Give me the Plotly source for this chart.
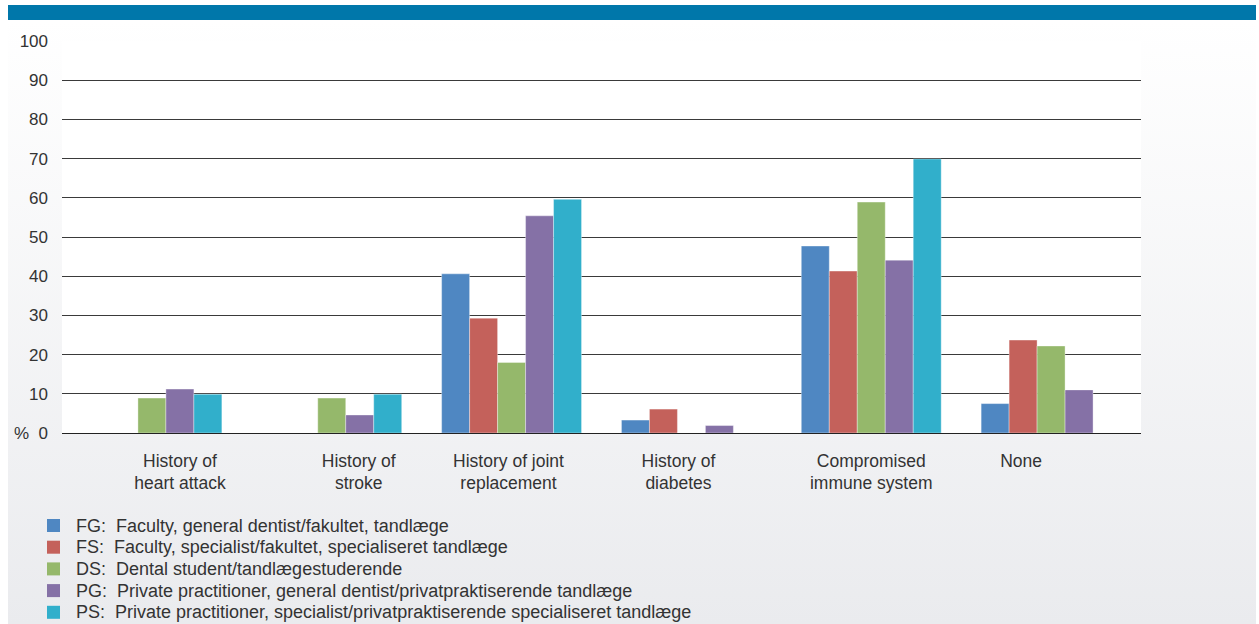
import base64
import plotly.graph_objects as go

categories = ["History of<br>heart attack", "History of<br>stroke", "History of joint<br>replacement",
              "History of<br>diabetes", "Compromised<br>immune system", "None"]
series_names = [
    "FG:&nbsp; Faculty, general dentist/fakultet, tandlæge",
    "FS:&nbsp; Faculty, specialist/fakultet, specialiseret tandlæge",
    "DS:&nbsp; Dental student/tandlægestuderende",
    "PG:&nbsp; Private practitioner, general dentist/privatpraktiserende tandlæge",
    "PS:&nbsp; Private practitioner, specialist/privatpraktiserende specialiseret tandlæge",
]
FG = [0, 0, 40.6, 3.3, 47.7, 7.5]
FS = [0, 0, 29.3, 6.1, 41.3, 23.7]
DS = [8.9, 8.9, 18.0, 0, 58.9, 22.2]
PG = [11.2, 4.6, 55.4, 1.9, 44.1, 11.0]
PS = [9.9, 9.9, 59.6, 0, 69.9, 0]
series_values = [FG, FS, DS, PG, PS]
colors = ["#4F87C2", "#C4615B", "#95B86B", "#8571A6", "#31AFCB"]
y_ticks = [0, 10, 20, 30, 40, 50, 60, 70, 80, 90, 100]
y_ticktext = ["%  0"] + [str(v) for v in y_ticks[1:]]
label_offsets = [0.156, 0.15, -0.017, -0.072, 0.0, -0.167]

W, H = 1259, 624
L, R, T, B = 62, 1259 - 1141, 41, 624 - 433
pw, ph = W - L - R, H - T - B

def px_x(p):
    return (p - L) / pw

def px_y(p):
    return (H - B - p) / ph

fig = go.Figure()
xs = list(range(len(categories)))
for name, vals, c in zip(series_names, series_values, colors):
    fig.add_trace(go.Bar(x=xs, y=vals, name=name, marker_color=c,
                         marker_line_width=0.6, marker_line_color="rgba(255,255,255,0.6)",
                         showlegend=False))

svg = ('<svg xmlns="http://www.w3.org/2000/svg" width="100" height="100" preserveAspectRatio="none">'
       '<defs><linearGradient id="g" x1="0" y1="0" x2="0" y2="1">'
       '<stop offset="0" stop-color="#ffffff"/><stop offset="1" stop-color="#eaebee"/>'
       '</linearGradient></defs><rect width="100" height="100" fill="url(#g)"/></svg>')
src = "data:image/svg+xml;base64," + base64.b64encode(svg.encode()).decode()

fig.add_layout_image(dict(source=src, xref="paper", yref="paper",
                          x=px_x(8), y=px_y(20), sizex=px_x(1256) - px_x(8),
                          sizey=px_y(20) - px_y(624), xanchor="left", yanchor="top",
                          sizing="stretch", layer="below"))

fig.add_shape(type="rect", xref="paper", yref="paper", x0=0, x1=1, y0=0, y1=1,
              fillcolor="white", line_width=0, layer="below")
fig.add_shape(type="rect", xref="paper", yref="paper", x0=px_x(8), x1=px_x(1256),
              y0=px_y(20), y1=px_y(5), fillcolor="#0077AA", line_width=0, layer="above")

# Manual legend (key squares + labels)
row0, row_step = 525.5, 21.7
for i, (name, c) in enumerate(zip(series_names, colors)):
    cy = row0 + i * row_step
    fig.add_shape(type="rect", xref="paper", yref="paper",
                  x0=px_x(47), x1=px_x(60), y0=px_y(cy + 6.5), y1=px_y(cy - 6.5),
                  fillcolor=c, line_width=0, layer="above")
    fig.add_annotation(xref="paper", yref="paper", x=px_x(74), y=px_y(cy),
                       xanchor="left", yanchor="middle", text=name, showarrow=False,
                       font=dict(size=18, color="#333333"))

fig.update_layout(
    width=W, height=H,
    margin=dict(l=L, r=R, t=T, b=B, pad=0, autoexpand=False),
    paper_bgcolor="white", plot_bgcolor="rgba(0,0,0,0)",
    barmode="group", bargap=0.222, bargroupgap=0,
    font=dict(family="Liberation Sans, Arial, sans-serif", size=17, color="#333333"),
    showlegend=False,
    xaxis=dict(range=[-0.5, 5.5], tickmode="array",
               tickvals=[i + o for i, o in zip(xs, label_offsets)],
               ticktext=categories, showgrid=False, zeroline=False, showline=False,
               ticks="", ticklabelstandoff=15, fixedrange=True,
               tickfont=dict(size=17.5)),
    yaxis=dict(range=[0, 100], tickmode="array", tickvals=y_ticks, ticktext=y_ticktext,
               showgrid=True, gridcolor="#3a3a3a", gridwidth=1, zeroline=True,
               zerolinecolor="#222222", zerolinewidth=1, showline=False, ticks="",
               ticklabelstandoff=13, fixedrange=True),
)

fig.write_html("out.html")
